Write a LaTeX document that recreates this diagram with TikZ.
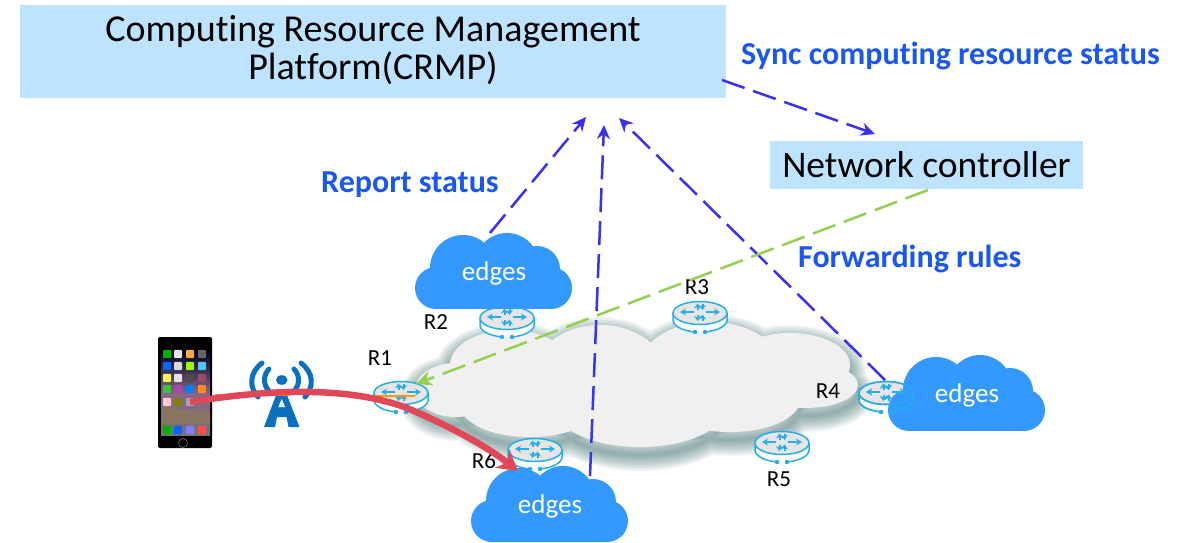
\documentclass[tikz,border=0pt]{standalone}
\usepackage{fontspec}
\setmainfont[Ligatures=NoCommon]{Carlito}
\usetikzlibrary{arrows.meta}
\definecolor{boxblue}{HTML}{BDE3FF}
\definecolor{cloudblue}{HTML}{3399FF}
\definecolor{routerline}{HTML}{27AEE3}
\definecolor{labelblue}{HTML}{1A56F0}
\definecolor{dashblue}{HTML}{3A30F0}
\definecolor{dashgreen}{HTML}{92D050}
\definecolor{towerblue}{HTML}{0B6FBF}
\definecolor{redline}{HTML}{E0485A}
\definecolor{shadowteal}{HTML}{3F6F70}
\tikzset{
 box/.style={fill=boxblue,draw=none,inner sep=0pt,align=center,text=black},
 bluelabel/.style={font=\bfseries\fontsize{32}{34}\selectfont,text=labelblue,inner sep=0pt},
 rlabel/.style={font=\fontsize{23}{25}\selectfont,text=black,inner sep=0pt},
 edgetext/.style={font=\fontsize{27}{29}\selectfont,text=white,inner sep=0pt},
 bluedash/.style={draw=dashblue,line width=2.5pt,dash pattern=on 24pt off 9pt,-{Stealth[length=14pt,width=13pt]}},
 greendash/.style={draw=dashgreen,line width=2.5pt,dash pattern=on 24pt off 9pt,-{Stealth[length=16pt,width=15pt]}},
 rline/.style={draw=routerline,line width=1.5pt},
}
% cloud body, local box 157 x 76 with origin top-left
\newcommand{\edgecloud}[3]{%
 \begin{scope}[shift={(#1,#2)}]
 \fill[cloudblue] (21,55) circle (21);
 \fill[cloudblue] (48,35) circle (33);
 \fill[cloudblue] (92,32) circle (32);
 \fill[cloudblue] (122,36) circle (23);
 \fill[cloudblue] (136,55) circle (21);
 \fill[cloudblue] (21,34) rectangle (136,76);
 \end{scope}
 \node[edgetext] (#3) at ({#1+79},{#2+40}) {edges};
}
\newcommand{\routerbody}[2]{%
 \begin{scope}[shift={(#1,#2)}]
 \fill[white] (-27,0) -- (-27,9) .. controls (-24,17) and (-12,19) .. (0,19) .. controls (12,19) and (24,17) .. (27,9) -- (27,0) -- cycle;
 \fill[black!10] (0,0) ellipse (27 and 11.5);
 \end{scope}
}
\newcommand{\routerlines}[2]{%
 \begin{scope}[shift={(#1,#2)}]
 \draw[rline] (0,0) ellipse (27 and 11.5);
 \draw[rline] (-27,0) -- (-27,8) .. controls (-25,15) and (-14,18) .. (-5,19);
 \draw[rline] (27,0) -- (27,8) .. controls (25,15) and (14,18) .. (5,19);
 \fill[routerline] (-5,19) circle (2.2) (5,19) circle (2.2);
 \draw[draw=routerline,line width=2pt,-{Stealth[length=6pt,width=7pt]}] (-6,-1) -- (-20,-1);
 \draw[draw=routerline,line width=2pt,-{Stealth[length=6pt,width=7pt]}] (6,-1) -- (20,-1);
 \draw[draw=routerline,line width=2pt,-{Stealth[length=5pt,width=7pt]}] (-2.5,-3) -- (-2.5,-9.5);
 \draw[draw=routerline,line width=2pt,-{Stealth[length=5pt,width=7pt]}] (2.5,-9.5) -- (2.5,-3);
 \draw[draw=routerline,line width=2pt,-{Stealth[length=5pt,width=7pt]}] (-2.5,1.5) -- (-2.5,8);
 \draw[draw=routerline,line width=2pt,-{Stealth[length=5pt,width=7pt]}] (2.5,8) -- (2.5,1.5);
 \end{scope}
}
\newcommand{\greycloudpath}{
 (510,365) ellipse (60 and 35)
 (456,390) ellipse (41 and 27)
 (600,372) ellipse (65 and 47)
 (710,366) ellipse (70 and 44)
 (790,365) ellipse (60 and 32)
 (805,385) ellipse (53 and 23)
 (730,400) ellipse (70 and 32)
 (640,408) ellipse (85 and 39)
 (530,405) ellipse (70 and 32)
}
\begin{document}
\begin{tikzpicture}[x=1pt,y=-1pt]
\useasboundingbox (0,0) rectangle (1187,542);
\fill[white] (0,0) rectangle (1187,542);
% grey cloud with soft shadow
\begin{scope}[yshift=-8pt]
 \foreach \w in {32,29,26,23,20,17,14,11,8,5,2}{
  \draw[shadowteal,opacity=0.065,line width=\w pt,line join=round] \greycloudpath;
 }
\end{scope}
\fill[black!6] \greycloudpath;
% blocks
\node[box,minimum width=706pt,minimum height=93pt] (crmp) at (373,51.5) {};
\node[font=\fontsize{38}{37.5}\selectfont,align=center,inner sep=0pt,text=black] (crmptext) at (373,50) {Computing Resource Management\\Platform(CRMP)};
\node[box,minimum width=313pt,minimum height=48pt,font=\fontsize{37.5}{40}\selectfont] (ctrl) at (926.5,165) {Network controller};
\node[bluelabel,anchor=west] (l1) at (741,56) {Sync computing resource status};
\node[bluelabel,anchor=west] (l2) at (321,185) {Report status};
\node[bluelabel,anchor=west] (l3) at (798,259) {Forwarding rules};
% routers
\routerbody{507}{318}\routerlines{507}{318}
\routerbody{700}{313}\routerlines{700}{313}
\routerbody{401}{393}\routerlines{401}{393}
\routerbody{782}{443}\routerlines{782}{443}
\routerbody{886}{393}\routerlines{886}{393}
\routerbody{535}{450}\routerlines{535}{450}
\edgecloud{415}{233}{edgesA}
\edgecloud{888}{355}{edgesB}
\edgecloud{471}{466}{edgesC}
\routerlines{886}{393}
\node[rlabel] (r1) at (380,358) {R1};
\node[rlabel] (r2) at (436,322) {R2};
\node[rlabel] (r3) at (697,287) {R3};
\node[rlabel] (r4) at (828,391) {R4};
\node[rlabel] (r5) at (779,479) {R5};
\node[rlabel] (r6) at (484,461) {R6};
% phone
\node[fill=black,rounded corners=2pt,minimum width=54pt,minimum height=111pt,inner sep=0pt] (phone) at (185,392.5) {};
\fill[top color=black!85!blue,bottom color=black!55,middle color=violet!45!black!60] (161,352) rectangle (210,435);
\fill[black!55!brown!70] (161,405) -- (180,410) -- (210,412) -- (210,424) -- (161,424) -- cycle;
\foreach \x/\y/\c in {
 167/354/green!70!black,178/354/white!90!black,190/354/orange!70,202/354/black!60,
 167/366/blue!60!cyan,178/366/black!15,190/366/green!40!yellow,202/366/cyan!70,
 167/378/yellow!70,178/378/white!90!black,190/378/black!70,202/378/orange!60!blue,
 167/389/green!50!gray,178/389/violet!70,190/389/blue!50!cyan,202/389/orange!90,
 167/402/pink!80,178/402/green!50!red,190/402/gray!70,
 167/430/green!70!black,178/430/blue!60!cyan,190/430/blue!50!white,202/430/red!70}
 {\fill[\c,rounded corners=1pt] (\x-4,\y-4.2) rectangle (\x+4,\y+4.2);}
\draw[black!55,line width=0.6pt] (183,443) circle (4.5);
% antenna
\begin{scope}[towerblue]
 \fill (281.7,380) ellipse (5.8 and 4.8);
 \draw[line width=5pt,line cap=round] (269,369) .. controls (263,375) and (263,385) .. (269,391);
 \draw[line width=5pt,line cap=round] (294,369) .. controls (300,375) and (300,385) .. (294,391);
 \draw[line width=5pt,line cap=round] (262,363) .. controls (249,373) and (249,387) .. (258,397);
 \draw[line width=5pt,line cap=round] (301,363) .. controls (314,373) and (314,387) .. (305,397);
 \fill (278,390) -- (285,390) -- (299.5,427) -- (288.5,427) -- (286.5,417) -- (277,417) -- (275,427) -- (264,427) -- cycle;
 \fill[white] (281.7,399) -- (285,407) -- (278.4,407) -- cycle;
\end{scope}
% connectors
\coordinate (phoneOut) at (190,402);
\coordinate (bend) at (407,408);
\coordinate (r6tip) at (518,471);
\coordinate (crmpOut) at (722,80);
\coordinate (ctrlIn) at (875,134);
\coordinate (reportIn) at (586,117);
\coordinate (centreIn) at (604,125);
\coordinate (r4In) at (619,118);
\coordinate (aOut) at (490,233);
\coordinate (cOut) at (590,476);
\coordinate (bOut) at (885,380);
\coordinate (ctrlOut) at (928,190);
\coordinate (r1In) at (416,384);
\coordinate (yellowA) at (215,395);
\coordinate (yellowB) at (290,395);
\coordinate (yellowC) at (373,396);
\coordinate (yellowD) at (415,396);
\draw[bluedash] (crmpOut) -- (ctrlIn);
\draw[bluedash] (aOut) -- (reportIn);
\draw[bluedash] (cOut) -- (centreIn);
\draw[bluedash] (bOut) -- (r4In);
\draw[greendash] (ctrlOut) -- (r1In);
\draw[draw=orange!80!yellow,line width=2.4pt] (yellowA) -- (yellowB) (yellowC) -- (yellowD);
\draw[draw=redline,line width=6.5pt,-{Stealth[length=20pt,width=23pt]}] (phoneOut) .. controls (265,390) and (345,385) .. (bend) .. controls (445,424) and (485,445) .. (r6tip);
\end{tikzpicture}
\end{document}
